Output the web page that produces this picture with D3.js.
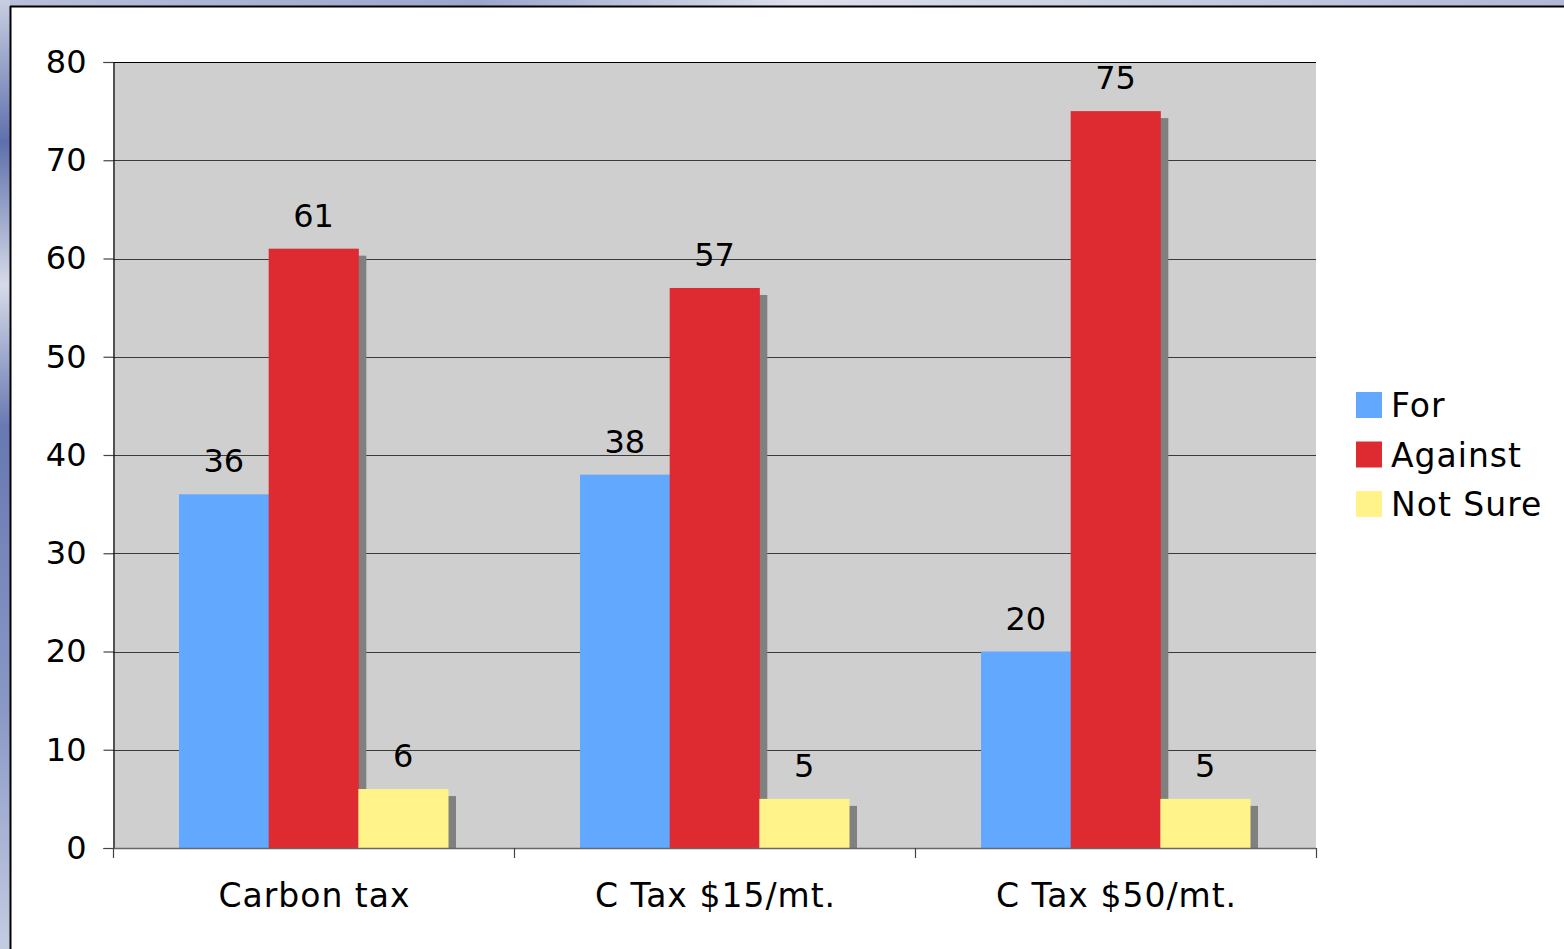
<!DOCTYPE html>
<html>
<head>
<meta charset="utf-8">
<script src="https://cdn.jsdelivr.net/npm/d3@7"></script>
<style>
html,body{margin:0;padding:0;background:#fff;}
svg{display:block;}
text{font-family:"DejaVu Sans",Verdana,sans-serif;fill:#000;}
</style>
</head>
<body>
<svg id="chart" width="1564" height="949"></svg>
<script>
const categories = ["Carbon tax", "C Tax $15/mt.", "C Tax $50/mt."];
const seriesNames = ["For", "Against", "Not Sure"];
const forValues = [36, 38, 20];
const againstValues = [61, 57, 75];
const notSureValues = [6, 5, 5];
const yTicks = [0, 10, 20, 30, 40, 50, 60, 70, 80];
const colors = ["#62A8FF", "#DE2B32", "#FFF38A"];

const seriesValues = [forValues, againstValues, notSureValues];

const svg = d3.select("#chart");
const W = 1564, H = 949;

// backdrop (slide background peeking at edges)
const defs = svg.append("defs");
const lg = defs.append("linearGradient").attr("id","bgL").attr("x1",0).attr("y1",0).attr("x2",0).attr("y2",1);
lg.append("stop").attr("offset","0%").attr("stop-color","#C8CEE2");
lg.append("stop").attr("offset","15%").attr("stop-color","#5E70AC");
lg.append("stop").attr("offset","30%").attr("stop-color","#D6DAE8");
lg.append("stop").attr("offset","45%").attr("stop-color","#6878B2");
lg.append("stop").attr("offset","75%").attr("stop-color","#8A98C6");
lg.append("stop").attr("offset","100%").attr("stop-color","#C4CCE2");
const tg = defs.append("linearGradient").attr("id","bgT").attr("x1",0).attr("y1",0).attr("x2",1).attr("y2",0);
tg.append("stop").attr("offset","0%").attr("stop-color","#B8C0DA");
tg.append("stop").attr("offset","30%").attr("stop-color","#9AA6CC");
tg.append("stop").attr("offset","50%").attr("stop-color","#DCE0EC");
tg.append("stop").attr("offset","100%").attr("stop-color","#B0B8D6");
svg.append("rect").attr("x",0).attr("y",0).attr("width",W).attr("height",H).attr("fill","url(#bgL)");
svg.append("rect").attr("x",10).attr("y",0).attr("width",W).attr("height",7).attr("fill","url(#bgT)");

// white panel
svg.append("rect").attr("x",10).attr("y",6).attr("width",W).attr("height",H).attr("fill","#fff");
svg.append("line").attr("x1",10.5).attr("x2",10.5).attr("y1",6).attr("y2",H).attr("stroke","#000").attr("stroke-width",2);
svg.append("line").attr("x1",10).attr("x2",W).attr("y1",6.5).attr("y2",6.5).attr("stroke","#000").attr("stroke-width",2);

const plot = {left:113, right:1316, top:62, bottom:848};

const x0 = d3.scaleBand().domain(categories).range([plot.left, plot.right]).paddingInner(0).paddingOuter(0);
const groupPad = 66;
const x1 = d3.scaleBand().domain(seriesNames).range([groupPad, x0.bandwidth()-groupPad]).padding(0);
const y = d3.scaleLinear().domain([0, 80]).range([plot.bottom, plot.top]);

// plot area
svg.append("rect").attr("x",plot.left).attr("y",plot.top)
  .attr("width",plot.right-plot.left).attr("height",plot.bottom-plot.top).attr("fill","#CFCFCF");

// gridlines
svg.append("g").selectAll("line").data(yTicks.filter(d=>d>0)).join("line")
  .attr("x1",plot.left).attr("x2",plot.right)
  .attr("y1",d=>Math.round(y(d))+0.5).attr("y2",d=>Math.round(y(d))+0.5)
  .attr("stroke",d=> d===80 ? "#000" : "#3a3a3a").attr("stroke-width",1.2);

// bars with shadows
const sx = 8, sy = 7;
seriesNames.forEach((s, si) => {
  const g = svg.append("g");
  const vals = seriesValues[si];
  g.selectAll("rect.sh").data(categories).join("rect").attr("class","sh")
    .attr("x",(c)=>x0(c)+x1(s)+sx)
    .attr("y",(c,i)=>y(vals[i])+sy)
    .attr("width",x1.bandwidth())
    .attr("height",(c,i)=>Math.max(0, plot.bottom - y(vals[i]) - sy))
    .attr("fill","#808080");
  g.selectAll("rect.bar").data(categories).join("rect").attr("class","bar")
    .attr("x",(c)=>x0(c)+x1(s))
    .attr("y",(c,i)=>y(vals[i]))
    .attr("width",x1.bandwidth()+0.5)
    .attr("height",(c,i)=>plot.bottom - y(vals[i]))
    .attr("fill",colors[si]);
});

// value labels
seriesNames.forEach((s, si) => {
  const vals = seriesValues[si];
  svg.append("g").selectAll("text").data(categories).join("text")
    .attr("x",(c)=>x0(c)+x1(s)+x1.bandwidth()/2)
    .attr("y",(c,i)=>y(vals[i]) - 22)
    .attr("text-anchor","middle")
    .attr("font-size",32)
    .text((c,i)=>vals[i]);
});

// y axis
const yAxis = d3.axisLeft(y).tickValues(yTicks).tickSize(10).tickPadding(17).tickFormat(d3.format("d"));
const ya = svg.append("g").attr("transform",`translate(${plot.left+0.5},0)`).call(yAxis);
ya.select(".domain").attr("stroke","#000").attr("stroke-width",1.2);
ya.selectAll(".tick line").attr("stroke","#444").attr("stroke-width",1.2);
ya.selectAll(".tick text").attr("font-size",32).attr("font-family","DejaVu Sans, Verdana, sans-serif").attr("fill","#000");

// x axis
const xEdges = d3.scaleLinear().domain([0, categories.length]).range([plot.left, plot.right]);
const xa = svg.append("g");
xa.append("line").attr("x1",plot.left).attr("x2",plot.right)
  .attr("y1",plot.bottom+0.5).attr("y2",plot.bottom+0.5).attr("stroke","#666").attr("stroke-width",1.5);
xa.selectAll("line.tk").data(d3.range(categories.length+1)).join("line").attr("class","tk")
  .attr("x1",d=>Math.round(xEdges(d))+0.5).attr("x2",d=>Math.round(xEdges(d))+0.5)
  .attr("y1",plot.bottom).attr("y2",plot.bottom+10).attr("stroke","#444").attr("stroke-width",1.2);
xa.selectAll("text").data(categories).join("text")
  .attr("x",c=>x0(c)+x0.bandwidth()/2 + 1)
  .attr("y",907)
  .attr("text-anchor","middle")
  .attr("font-size",33)
  .attr("letter-spacing",1)
  .text(c=>c);

// legend
const legend = svg.append("g");
seriesNames.forEach((s, i) => {
  const ly = 392 + i*49.5;
  legend.append("rect").attr("x",1356).attr("y",ly).attr("width",26).attr("height",26).attr("fill",colors[i]);
  legend.append("text").attr("x",1391).attr("y",ly+25).attr("font-size",33).attr("letter-spacing",1).text(s);
});
</script>
</body>
</html>
